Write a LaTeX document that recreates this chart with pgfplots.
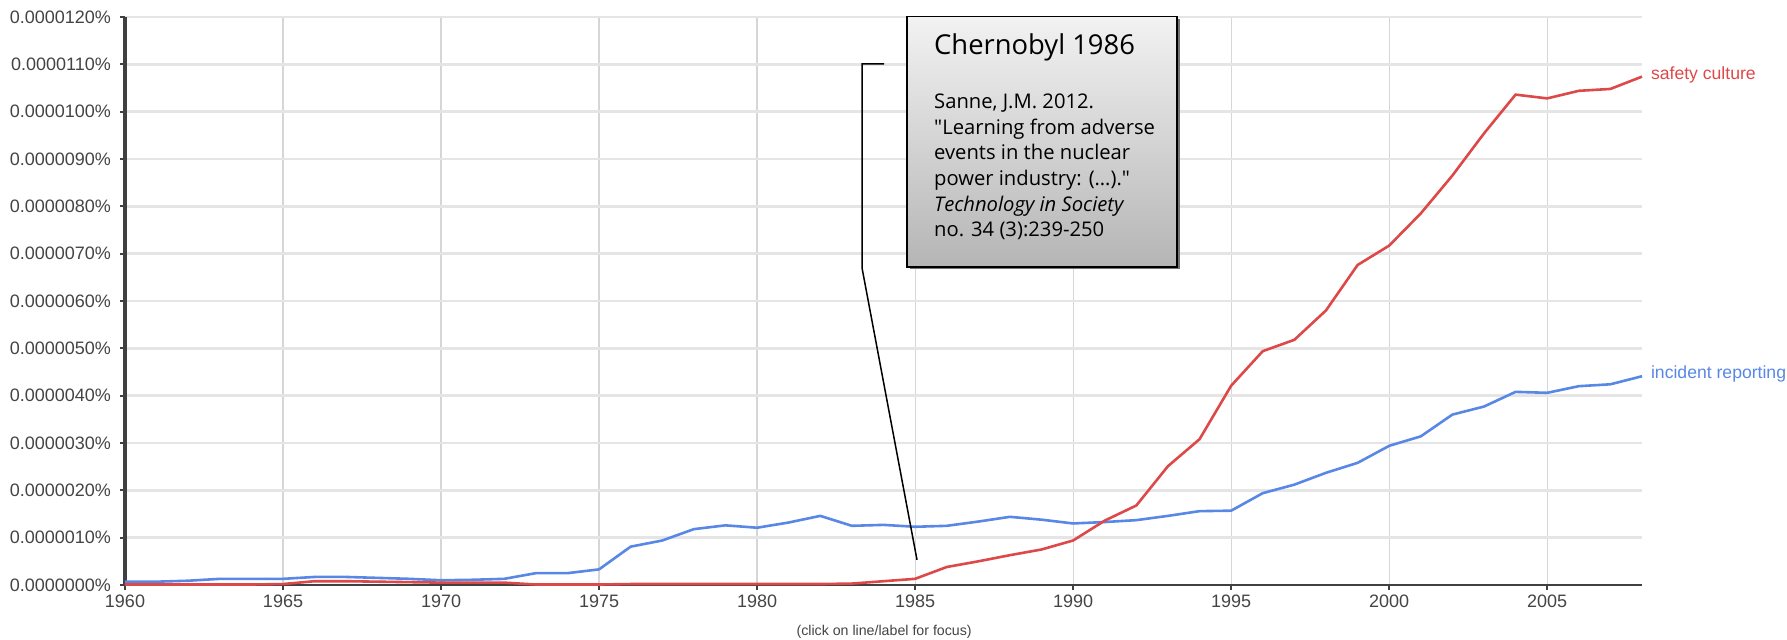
\documentclass[border=0pt]{standalone}
\usepackage{fontspec}
\setmainfont{Liberation Sans}
\newfontfamily\osans{Open Sans}
\usepackage{pgfplots}
\pgfplotsset{compat=1.18}
\usetikzlibrary{shadings}
\definecolor{sred}{HTML}{DD4848}
\definecolor{sblue}{HTML}{5887E6}
\definecolor{ticktxt}{HTML}{444444}

\pgfplotstableread{
year val
1960 0.01
1961 0.01
1962 0.01
1963 0.01
1964 0.01
1965 0.02
1966 0.08
1967 0.08
1968 0.07
1969 0.06
1970 0.05
1971 0.05
1972 0.05
1973 0.01
1974 0.01
1975 0.01
1976 0.02
1977 0.02
1978 0.02
1979 0.02
1980 0.02
1981 0.02
1982 0.02
1983 0.03
1984 0.08
1985 0.13
1986 0.38
1987 0.50
1988 0.63
1989 0.75
1990 0.94
1991 1.36
1992 1.68
1993 2.51
1994 3.08
1995 4.21
1996 4.94
1997 5.18
1998 5.80
1999 6.76
2000 7.17
2001 7.85
2002 8.65
2003 9.54
2004 10.36
2005 10.28
2006 10.44
2007 10.48
2008 10.74
}\safety

\pgfplotstableread{
year val
1960 0.07
1961 0.07
1962 0.09
1963 0.13
1964 0.13
1965 0.13
1966 0.17
1967 0.17
1968 0.15
1969 0.13
1970 0.10
1971 0.11
1972 0.13
1973 0.25
1974 0.25
1975 0.33
1976 0.81
1977 0.94
1978 1.18
1979 1.26
1980 1.21
1981 1.32
1982 1.46
1983 1.25
1984 1.27
1985 1.23
1986 1.25
1987 1.34
1988 1.44
1989 1.38
1990 1.30
1991 1.33
1992 1.37
1993 1.46
1994 1.56
1995 1.57
1996 1.94
1997 2.12
1998 2.37
1999 2.58
2000 2.94
2001 3.14
2002 3.60
2003 3.77
2004 4.08
2005 4.06
2006 4.20
2007 4.24
2008 4.41
}\incident

\begin{document}
\begin{tikzpicture}
\path[use as bounding box] (-62.5pt,-27.5pt) rectangle (831pt,292.5pt);
\begin{axis}[
  at={(0,0)}, anchor=south west,
  scale only axis,
  width=758.5pt, height=284pt,
  xmin=1960, xmax=2008, ymin=0, ymax=12,
  clip=false,
  axis x line=bottom, axis y line=left,
  x axis line style={-, line width=1.1pt, color=black!75},
  y axis line style={-, line width=1.6pt, color=black!75},
  xtick={1960,1965,...,2005},
  xticklabels={1960,1965,1970,1975,1980,1985,1990,1995,2000,2005},
  ytick={0,1,...,12},
  yticklabels={0.0000000\%,0.0000010\%,0.0000020\%,0.0000030\%,0.0000040\%,0.0000050\%,0.0000060\%,0.0000070\%,0.0000080\%,0.0000090\%,0.0000100\%,0.0000110\%,0.0000120\%},
  tick label style={font=\fontsize{9pt}{10pt}\selectfont, text=ticktxt},
  tick align=outside,
  major tick length=2.5pt,
  tick style={black!75, line width=1pt},
  xmajorgrids, ymajorgrids,
  x grid style={black!16, line width=0.6pt},
  y grid style={black!10, line width=1.2pt},
  yticklabel style={xshift=-1pt},
  xticklabel style={yshift=1pt},
]
\addplot[sblue, line width=1.3pt] table[x=year, y=val] {\incident};
\addplot[sred, line width=1.3pt] table[x=year, y=val] {\safety};

\node[anchor=west, text=sred, font=\fontsize{8.8pt}{10pt}\selectfont, xshift=1pt] at (axis cs:2008,10.78) {safety culture};
\node[anchor=west, text=sblue, font=\fontsize{8.8pt}{10pt}\selectfont, xshift=1pt] at (axis cs:2008,4.45) {incident reporting};

% callout
\draw[black, line width=0.75pt] (axis cs:1984.02,11.01) -- (axis cs:1983.32,11.01) -- (axis cs:1983.32,6.70) -- (axis cs:1985.06,0.53);
\fill[black!55, xshift=1.2pt, yshift=-1.2pt] (axis cs:1984.75,6.72) rectangle (axis cs:1993.29,12.01);
\draw[black, line width=0.9pt, top color=black!5, bottom color=black!29] (axis cs:1984.75,6.72) rectangle (axis cs:1993.29,12.01);
\node[anchor=base west, font=\osans\fontsize{13.7pt}{16pt}\selectfont] at (axis cs:1985.38,11.2) {Chernobyl 1986};
\begin{scope}[every node/.style={anchor=base west, font=\osans\fontsize{10.1pt}{12pt}\selectfont}]
\node at (axis cs:1985.38,10.06) {Sanne, J.M. 2012.};
\node at (axis cs:1985.38,9.52) {"Learning from adverse};
\node at (axis cs:1985.38,8.98) {events in the nuclear};
\node at (axis cs:1985.38,8.44) {power industry: (\dots)."};
\node at (axis cs:1985.38,7.90) {\itshape Technology in Society};
\node at (axis cs:1985.38,7.37) {no. 34 (3):239-250};
\end{scope}

\node[font=\fontsize{7.1pt}{8pt}\selectfont, text=ticktxt] at (axis cs:1984.02,-0.99) {(click on line/label for focus)};
\end{axis}
\end{tikzpicture}
\end{document}
